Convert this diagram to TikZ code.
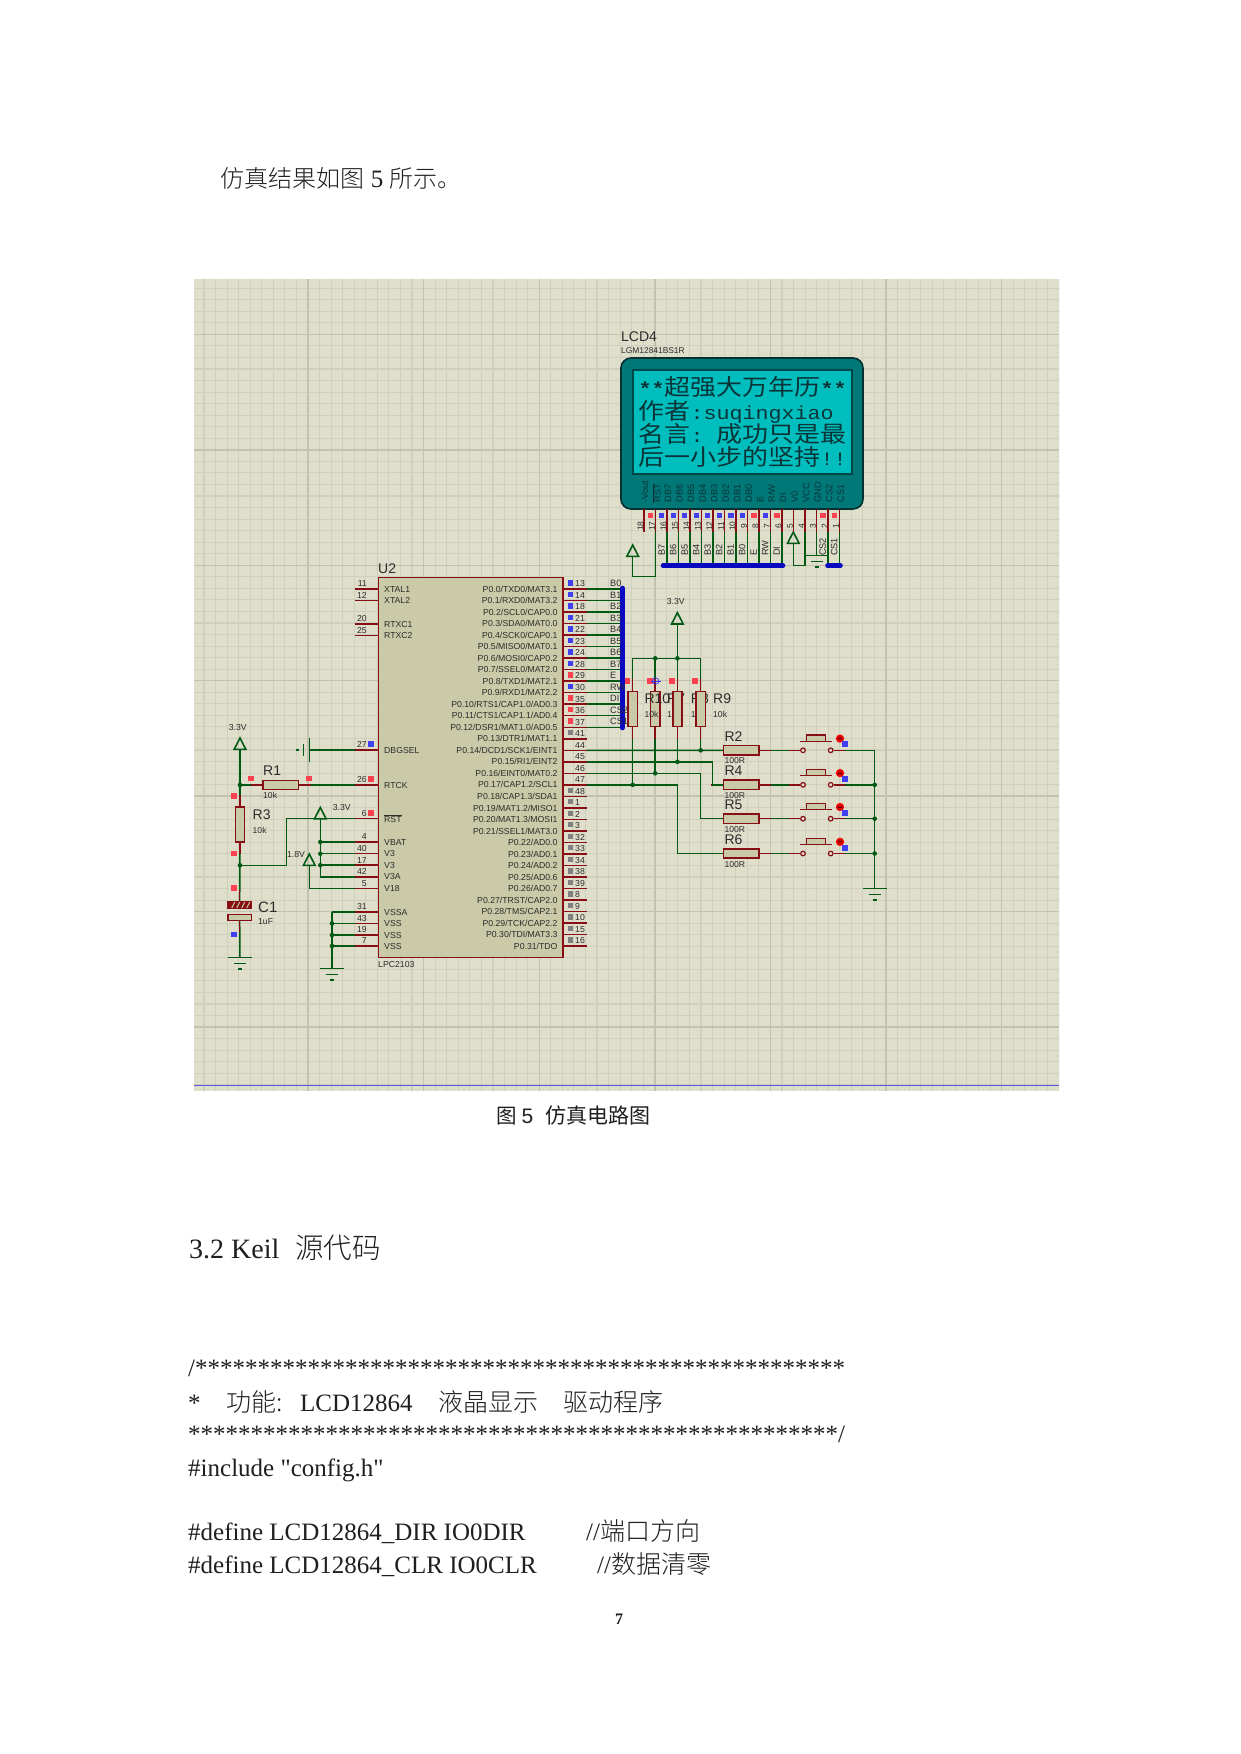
\documentclass[tikz,border=0pt]{standalone}
\usepackage{fontspec}
\usepackage{graphicx}
\setmainfont{Liberation Serif}
\setsansfont{Liberation Sans}
\setmonofont{Liberation Mono}
\newfontfamily\rawrm{Liberation Serif}
\newfontfamily\cjk{Noto Sans CJK SC Light}
\newfontfamily\cjkr{Noto Sans CJK SC}
\newcommand\fs[1]{\fontsize{#1}{#1}\selectfont}
\newcommand\ovl[1]{$\overline{\hbox{#1}}$}
\definecolor{gridbg}{HTML}{DEDECB}
\definecolor{gridmin}{HTML}{CFCFBE}
\definecolor{gridmaj}{HTML}{C2C2B0}
\definecolor{wirec}{HTML}{005A14}
\definecolor{pinc}{HTML}{860E14}
\definecolor{chipc}{HTML}{CACAA8}
\definecolor{busc}{HTML}{0808C0}
\definecolor{lcdo}{HTML}{007878}
\definecolor{lcdi}{HTML}{00BEBE}
\definecolor{lcdt}{HTML}{0A3438}
\definecolor{sred}{HTML}{FF4050}
\definecolor{sblue}{HTML}{4040F0}
\definecolor{sgray}{HTML}{808080}
\definecolor{txtc}{HTML}{2C2C2C}
\tikzset{
  wire/.style={draw=wirec,line width=1.5pt},
  pinw/.style={draw=pinc,line width=1.5pt},
  bus/.style={draw=busc,line width=4.6pt,line cap=round},
  resh/.style={draw=pinc,fill=chipc,line width=1.5pt,rectangle,inner sep=0pt,minimum width=35.5pt,minimum height=9.4pt},
  resv/.style={draw=pinc,fill=chipc,line width=1.5pt,rectangle,inner sep=0pt,minimum width=9.2pt,minimum height=35pt},
  dot/.style={circle,fill=wirec,inner sep=0pt,minimum size=4.6pt},
  term/.style={circle,draw=pinc,fill=gridbg,line width=1.2pt,inner sep=0pt,minimum size=4.6pt},
  big/.style={font=\sffamily\fs{14},text=txtc,inner sep=0pt,anchor=west},
  small/.style={font=\sffamily\fs{8.6},text=txtc,inner sep=0pt},
  lbl/.style={font=\sffamily\fs{8.7},text=txtc,inner sep=0pt},
  rot/.style={font=\sffamily\fs{9.2},text=txtc,inner sep=0pt,rotate=90,anchor=west},
  lcdtxt/.style={text=lcdt,inner sep=0pt,anchor=base west},
  page/.style={font=\rmfamily\fs{25},text=black!88,inner sep=0pt,anchor=base west},
}
\newcommand\lm{\ttfamily\fs{21.67}}
\newcommand\lc{\cjkr\fs{26}}
\newcommand\lcdline[1]{\scalebox{1}[0.87]{#1}}
\newcommand\tri[1]{\draw[wire,line width=1.6pt] (#1) -- ++(-5.8,11.3) -- ++(11.6,0) -- cycle;}
\newcommand\gnd[1]{\draw[wire] (#1) ++(-12,0) -- ++(24,0) ++(-18,6) -- ++(12,0) ++(-8,5.6) -- ++(4,0);}
\begin{document}
\begin{tikzpicture}[x=1pt,y=-1pt]
\useasboundingbox (0,0) rectangle (1241,1754);
\fill[white] (0,0) rectangle (1241,1754);
% ---------------- grid
\fill[gridbg] (194,279) rectangle (1059,1090.7);
\begin{scope}
\clip (194,279) rectangle (1059,1090.7);
\foreach \k in {-9,...,65}{
  \draw[gridmin,line width=1.1pt] ({308+11.56*\k},279) -- ({308+11.56*\k},1091);
}
\foreach \k in {-34,...,36}{
  \draw[gridmin,line width=1.1pt] (194,{680.7+11.545*\k}) -- (1059,{680.7+11.545*\k});
}
\foreach \k in {-1,0,...,6}{
  \draw[gridmaj,line width=1.4pt] ({308+115.6*\k},279) -- ({308+115.6*\k},1091);
}
\foreach \k in {-3,...,3}{
  \draw[gridmaj,line width=1.4pt] (194,{680.7+115.45*\k}) -- (1059,{680.7+115.45*\k});
}
\end{scope}
\draw[blue!55!gridmaj,line width=1pt] (194,1085) -- (1059,1085);
% ---------------- LCD
\draw[draw=black!60!lcdo,fill=lcdo,line width=1.6pt,rounded corners=10pt] (621,358) rectangle (863,509);
\node[draw=black!40!lcdo,fill=lcdi,line width=1.2pt,rectangle,inner sep=0pt,minimum width=219pt,minimum height=104pt] (screen) at (742.5,422) {};
\node[lcdtxt] (lcdA) at (638.3,395.5) {\lcdline{{\lm\bfseries **}{\lc 超强大万年历}{\lm\bfseries **}}};
\node[lcdtxt] (lcdB) at (638.3,419.5) {\lcdline{{\lc 作者}{\lm :suqingxiao}}};
\node[lcdtxt] (lcdC) at (638.3,442.5) {\lcdline{{\lc 名言}{\lm : }{\lc 成功只是最}}};
\node[lcdtxt] (lcdD) at (638.3,465.5) {\lcdline{{\lc 后一小步的坚持}{\lm !!}}};
\node[big] (lcdname) at (621,337) {LCD4};
\node[font=\sffamily\fs{8.4},text=txtc,inner sep=0pt,anchor=west] (lcdtype) at (621,351) {LGM12841BS1R};
\coordinate (busA) at (663,565.7);
\coordinate (busB) at (783,565.7);
\foreach \n in {18,17,...,1}{
  \pgfmathsetmacro\px{839.7-11.51*(\n-1)}
  \coordinate (LP\n) at (\px,509);
  \coordinate (LE\n) at (\px,532);
}
\foreach \n/\t/\c in {18/-Vout/none,17/\ovl{RST}/sred,16/DB7/sblue,15/DB6/sblue,14/DB5/sblue,13/DB4/sblue,12/DB3/sblue,11/DB2/sblue,10/DB1/sblue,9/DB0/sblue,8/E/sred,7/{R/W}/sblue,6/DI/sred,5/V0/none,4/VCC/none,3/GND/none,2/CS2/sred,1/CS1/sred}{
  \pgfmathsetmacro\px{839.7-11.51*(\n-1)}
  \node[rot,text=lcdt] (lt\n) at ({\px+1},502.8) {\t};
  \node[font=\sffamily\fs{8.4},text=txtc,inner sep=0pt,rotate=90] (ln\n) at ({\px-3.6},526) {\n};
  \path[fill=\c] ({\px-8},513) rectangle ({\px-2.6},518.4);
}
% LCD wires
\foreach \n in {16,15,...,6}{ \draw[wire] (LE\n) -- (LE\n |- busA); }
\foreach \n in {2,1}{ \draw[wire] (LE\n) -- (LE\n |- busA); }
\coordinate (tA) at (632.7,545);
\coordinate (tB) at (793.3,532);
\draw[wire] (LE17) |- (632.7,576.7) -- (632.7,556);
\tri{tA}
\tri{tB}
\draw[wire] (793.3,543) -- (793.3,565.7) -- (LE4 |- busA) -- (LE4);
\coordinate (gL) at (LE3 |- 0,555.5);
\draw[wire] (LE3) -- (gL);
\gnd{gL}
\foreach \n in {18,17,...,1}{ \draw[pinw] (LP\n) -- (LE\n); }
\draw[bus] (busA) -- (busB);
\draw[bus] (827.5,565.7) -- (840.5,565.7);
\foreach \n/\t in {16/B7,15/B6,14/B5,13/B4,12/B3,11/B2,10/B1,9/B0,8/E,7/RW,6/DI,2/CS2,1/CS1}{
  \pgfmathsetmacro\px{839.7-11.51*(\n-1)}
  \node[rot] (lb\n) at ({\px-5.4},556) {\t};
}
% ---------------- chip
\node[draw=pinc,fill=chipc,line width=1.6pt,rectangle,inner sep=0pt,minimum width=184.4pt,minimum height=380pt] (U2) at (470.5,767.3) {};
\node[big] (u2name) at (378,569) {U2};
\node[lbl,anchor=west] (u2type) at (378,964) {LPC2103};
% right pins
\foreach \a/\b/\c [count=\i from 0] in {
{P0.0/TXD0/MAT3.1}/13/sblue,{P0.1/RXD0/MAT3.2}/14/sblue,{P0.2/SCL0/CAP0.0}/18/sblue,{P0.3/SDA0/MAT0.0}/21/sblue,{P0.4/SCK0/CAP0.1}/22/sblue,{P0.5/MISO0/MAT0.1}/23/sblue,{P0.6/MOSI0/CAP0.2}/24/sblue,{P0.7/SSEL0/MAT2.0}/28/sblue,{P0.8/TXD1/MAT2.1}/29/sred,{P0.9/RXD1/MAT2.2}/30/sblue,{P0.10/RTS1/CAP1.0/AD0.3}/35/sred,{P0.11/CTS1/CAP1.1/AD0.4}/36/sred,{P0.12/DSR1/MAT1.0/AD0.5}/37/sred,{P0.13/DTR1/MAT1.1}/41/sgray,{P0.14/DCD1/SCK1/EINT1}/44/none,{P0.15/RI1/EINT2}/45/none,{P0.16/EINT0/MAT0.2}/46/none,{P0.17/CAP1.2/SCL1}/47/none,{P0.18/CAP1.3/SDA1}/48/sgray,{P0.19/MAT1.2/MISO1}/1/sgray,{P0.20/MAT1.3/MOSI1}/2/sgray,{P0.21/SSEL1/MAT3.0}/3/sgray,{P0.22/AD0.0}/32/sgray,{P0.23/AD0.1}/33/sgray,{P0.24/AD0.2}/34/sgray,{P0.25/AD0.6}/38/sgray,{P0.26/AD0.7}/39/sgray,{P0.27/TRST/CAP2.0}/8/sgray,{P0.28/TMS/CAP2.1}/9/sgray,{P0.29/TCK/CAP2.2}/10/sgray,{P0.30/TDI/MAT3.3}/15/sgray,{P0.31/TDO}/16/sgray}{
  \pgfmathsetmacro\py{589+11.52*\i}
  \coordinate (PR\i) at (562.7,\py);
  \coordinate (PO\i) at (586.7,\py);
  \node[lbl,anchor=east] (pl\i) at (557.7,\py) {\a};
  \node[lbl,anchor=west] (pn\i) at (575,{\py-5.2}) {\b};
  \path[fill=\c] (567.6,{\py-8.8}) rectangle (572.9,{\py-3.5});
}
% data wires to the bus
\coordinate (busE) at (622.3,588);
\coordinate (busF) at (622.3,728);
\foreach \i in {0,...,12}{ \draw[wire] (PO\i) -- (PO\i -| busE); }
% left pins
\foreach \a/\b/\py in {XTAL1/11/589,XTAL2/12/600.5,RTXC1/20/624,RTXC2/25/635.5,DBGSEL/27/750,RTCK/26/785,\ovl{RST}/6/818.7,VBAT/4/842,V3/40/853.7,V3/17/865.2,V3A/42/876.8,V18/5/888.3,VSSA/31/912,VSS/43/923.5,VSS/19/935,VSS/7/946}{
  \coordinate (PL\b) at (378.3,\py);
  \coordinate (PK\b) at (355,\py);
  \node[lbl,anchor=west] (ll\b) at (384,\py) {\a};
  \node[lbl,anchor=east] (lk\b) at (367,{\py-5.2}) {\b};
}
% left network
\coordinate (p33a) at (240,738);
\coordinate (j1) at (240,785);
\coordinate (j2) at (240,865.3);
\node[resh] (R1) at (280.5,785) {};
\node[resv] (R3) at (240,824.3) {};
\node[draw=pinc,fill=pinc,line width=1pt,rectangle,inner sep=0pt,minimum width=24pt,minimum height=6.2pt] (C1t) at (239.7,905) {};
\node[draw=pinc,fill=chipc,line width=1.3pt,rectangle,inner sep=0pt,minimum width=23.6pt,minimum height=6pt] (C1b) at (239.7,917.3) {};
\foreach \dx in {-8,-3,2,7}{ \draw[chipc,line width=1pt] ({239.7+\dx},908) -- ({239.7+\dx+3},902); }
\coordinate (g1) at (240,957.3);
\coordinate (g2) at (332,968.3);
\coordinate (tr33) at (320.3,807.5);
\coordinate (tr18) at (309.3,854);
\tri{p33a}
\tri{tr33}
\tri{tr18}
\draw[wire] (240,749.3) -- (R3.north);
\draw[wire] (R3.south) -- (C1t.north);
\draw[wire] (C1b.south) -- (g1);
\gnd{g1}
\draw[wire] (j1) -- (R1.west);
\draw[wire] (R1.east) -- (PK26);
\draw[wire] (j2) -- (286.7,865.3) -- (286.7,818.7) -- (PK6);
\draw[wire] (320.3,818.8) -- (320.3,876.8) -- (PK42);
\foreach \n in {4,40,17}{ \draw[wire] (PK\n -| tr33) -- (PK\n); }
\draw[wire] (309.3,865.3) -- (309.3,888.3) -- (PK5);
\draw[wire] (PK31 -| g2) -- (g2);
\draw[wire] (PK31 -| g2) -- (PK31);
\foreach \n in {43,19,7}{ \draw[wire] (PK\n -| g2) -- (PK\n); }
\gnd{g2}
\coordinate (dbg) at (309.3,750);
\draw[wire] (PK27) -- (dbg);
\draw[wire] (309.3,738) -- (309.3,762);
\draw[wire] (303.3,744) -- (303.3,756);
\draw[wire] (296,750) -- (299,750);
\foreach \n in {11,12,20,25,27,26,6,4,40,17,42,5,31,43,19,7}{ \draw[pinw] (PK\n) -- (PL\n); }
\foreach \i in {0,...,31}{ \draw[pinw] (PR\i) -- (PO\i); }
\draw[pinw] (R1.west) -- ++(-11.5,0);
\draw[pinw] (R1.east) -- ++(11.5,0);
\draw[pinw] (R3.north) -- ++(0,-11.5);
\draw[pinw] (R3.south) -- ++(0,11.5);
\draw[pinw] (C1t.north) -- ++(0,-11.5);
\draw[pinw] (C1b.south) -- ++(0,11.5);
\foreach \x/\y/\c in {251/778.3/sred,309/778.3/sred,233.7/796/sred,233.7/853.3/sred,233.7/887.7/sred,233.7/934.3/sblue,371/743.7/sblue,371/779/sred,371/813/sred}{
  \path[fill=\c] ({\x-2.8},{\y-2.8}) rectangle ({\x+2.8},{\y+2.8});
}
\foreach \c/\x/\y in {a/240/785,b/240/865.3,c/320.3/842,d/320.3/853.7,e/320.3/865.2,f/332/923.5,g/332/935,h/332/946}{
  \node[dot] (d\c) at (\x,\y) {};
}
\node[lbl] (v1) at (237.7,727) {3.3V};
\node[lbl] (v2) at (341.7,807) {3.3V};
\node[lbl] (v3) at (296,854) {1.8V};
\node[big] (nR1) at (263,771) {R1};
\node[small,anchor=west] (vR1) at (263,795.7) {10k};
\node[big] (nR3) at (252.5,815) {R3};
\node[small,anchor=west] (vR3) at (252.5,830) {10k};
\node[big,font=\sffamily\fs{15}] (nC1) at (258,907) {C1};
\node[small,anchor=west] (vC1) at (258,921.7) {1uF};
% pull-ups and buttons
\coordinate (p33b) at (677.4,612.7);
\tri{p33b}
\node[lbl] (v4) at (675.7,601) {3.3V};
\coordinate (top) at (0,658.3);
% labels that the two right-hand resistors partly cover
\foreach \t/\x/\u in {R7/667/b,R8/690.7/c}{
  \node[big] (nP\u) at (\x,698.3) {\t};
  \node[small,anchor=west] (vP\u) at (\x,714) {10k};
}
\foreach \r/\x/\i in {a/632.7/17,b/655.2/16,c/677.4/15,d/700.7/14}{
  \node[resv] (P\r) at (\x,709.2) {};
  \draw[wire] (P\r.north) -- (P\r.north |- top);
  \draw[wire] (P\r.south) -- (P\r.south |- PO\i);
  \draw[pinw] (P\r.north) -- ++(0,-11.5);
  \draw[pinw] (P\r.south) -- ++(0,11.5);
}
\draw[wire] (Pa.north |- top) -- (Pd.north |- top);
\draw[wire] (p33b) ++(0,11.3) -- (Pc.north |- top);
\coordinate (m4) at (712.3,784.8);
\coordinate (m5) at (700.7,818.7);
\coordinate (m6) at (677.4,853.5);
\coordinate (rail) at (874.7,750.3);
\coordinate (g3) at (874.7,888.3);
\foreach \n/\y in {2/750.3,4/784.8,5/818.7,6/853.5}{
  \node[resh] (R\n) at (741.3,\y) {};
  \node[term] (sl\n) at (803,\y) {};
  \node[term] (sr\n) at (830.7,\y) {};
  \draw[wire] (R\n.east) -- (sl\n.west);
  \draw[wire] (sr\n.east) -- (rail |- sr\n);
  \draw[pinw] (R\n.west) -- ++(-11.5,0);
  \draw[pinw] (R\n.east) -- ++(11.5,0);
  \draw[pinw] (sl\n.west) -- ++(-11,0);
  \draw[pinw] (sr\n.east) -- ++(11,0);
  \draw[pinc,line width=1.1pt] (800,{\y-9}) -- (832.3,{\y-9});
  \draw[pinc,fill=chipc,line width=1.2pt] (806.7,{\y-9}) rectangle (825.3,{\y-15.4});
  \node[circle,fill=red!85!black,draw=red,line width=.8pt,inner sep=0pt,minimum size=7.4pt] (led\n) at (840,{\y-11.7}) {};
  \draw[black!70!red,line width=.8pt] (838,{\y-11.7}) -- (842,{\y-11.7});
  \path[fill=sblue] (842.3,{\y-9}) rectangle (848.3,{\y-3});
}
\draw[wire] (PO14) -- (R2.west);
\draw[wire] (PO15) -| (m4) -- (R4.west);
\draw[wire] (PO16) -| (m5) -- (R5.west);
\draw[wire] (PO17) -| (m6) -- (R6.west);
\draw[wire] (rail) -- (g3);
\gnd{g3}
\foreach \c/\x/\y in {k/700.7/750.3,l/677.4/761.8,m/655.2/773.3,n/632.7/784.8,o/655.2/658.3,p/677.4/658.3,q/874.7/784.8,r/874.7/818.7,s/874.7/853.5}{
  \node[dot] (d\c) at (\x,\y) {};
}
\foreach \x in {626.7,650,672,695}{ \path[fill=sred] ({\x-2.8},678) rectangle ({\x+2.8},683.6); }
\node[circle,draw=blue!80,line width=.7pt,inner sep=0pt,minimum size=6.4pt] (cursor) at (655.7,681) {};
\draw[blue!80,line width=.7pt] (651,681) -- (660.5,681);
% bus on top of the data wires, then its labels
\draw[bus] (busE) -- (busF);
\foreach \t/\i in {B0/0,B1/1,B2/2,B3/3,B4/4,B5/5,B6/6,B7/7,E/8,RW/9,DI/10,CS2/11,CS1/12}{
  \node[font=\sffamily\fs{9.2},text=txtc,inner sep=0pt,anchor=west] (bl\i) at (610,{589+11.52*\i-5.6}) {\t};
}
\foreach \t/\x/\u in {R10/644.3/a,R9/713/d}{
  \node[big] (nP\u) at (\x,698.3) {\t};
  \node[small,anchor=west] (vP\u) at (\x,714) {10k};
}
\foreach \t/\y/\v in {R2/736.7/761,R4/771/796,R5/805/830,R6/840/865}{
  \node[big] (n\t) at (724.3,\y) {\t};
  \node[small,anchor=west] (v\t) at (724.3,\v) {100R};
}
% ---------------- page text
\node[page,font=\cjk\fs{24}] (h1) at (220.7,187) {仿真结果如图{\rmfamily\fs{25}\hspace{6pt}5\hspace{6pt}}所示。};
\node[inner sep=0pt,anchor=base west,text=black!88] (cap) at (496,1123) {{\cjkr\fs{20.5}图}\hspace{5pt}{\sffamily\fs{21}5}\hspace{12pt}{\cjkr\fs{21}仿真电路图}};
\node[inner sep=0pt,anchor=base west,text=black!88] (sec) at (189,1258) {{\rmfamily\fs{28}3.2 Keil}\hspace{16pt}{\cjk\fs{28.5}源代码}};
\node[page] (s1) at (188,1376) {/****************************************************};
\node[page] (s2a) at (188,1411) {*};
\node[page,font=\cjk\fs{25}] (s2b) at (226,1411) {功能:};
\node[page] (s2c) at (300,1411) {LCD12864};
\node[page,font=\cjk\fs{25}] (s2d) at (438,1411) {液晶显示};
\node[page,font=\cjk\fs{25}] (s2e) at (563,1411) {驱动程序};
\node[page] (s3) at (188,1442) {****************************************************/};
\node[page] (s4) at (188,1476) {\rawrm\#include "config.h"};
\node[page] (s5) at (188,1540) {\#define LCD12864\_DIR IO0DIR};
\node[page] (s5c) at (586,1540) {//{\cjk 端口方向}};
\node[page] (s6) at (188,1573) {\#define LCD12864\_CLR IO0CLR};
\node[page] (s6c) at (597,1573) {//{\cjk 数据清零}};
\node[font=\rmfamily\bfseries\fs{16},text=black!88,inner sep=0pt] (pg) at (619,1619) {7};
\end{tikzpicture}
\end{document}
